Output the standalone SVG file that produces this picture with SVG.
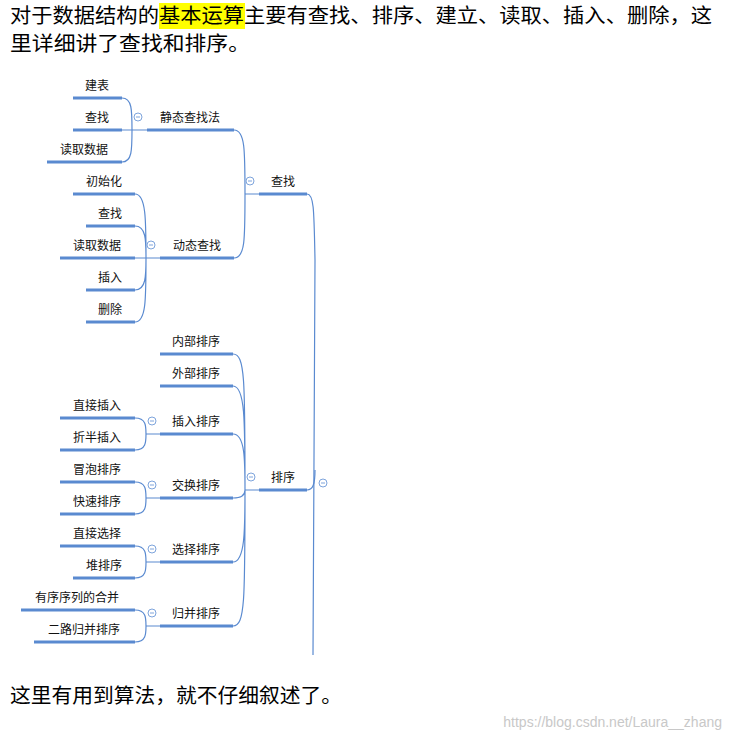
<svg xmlns="http://www.w3.org/2000/svg" width="730" height="739" viewBox="0 0 730 739">
<style>
.p{font-family:"Microsoft YaHei","Noto Sans CJK SC",sans-serif;font-size:20px;fill:#000}
.t{font-family:"Noto Sans CJK SC",sans-serif;font-size:12px;fill:#111;text-anchor:middle}
.u{stroke:#5a8ad0;stroke-width:3;fill:none}
.c{stroke:#5a8ad0;stroke-width:1.2;fill:none}
.o{stroke:#7ea4dc;stroke-width:1;fill:#fff}
.m{stroke:#7ea4dc;stroke-width:1}
</style>
<rect width="730" height="739" fill="#fff"/>
<rect x="159" y="3" width="86" height="26" fill="#ffff00"/>
<text class="p" x="10" y="23" textLength="702" lengthAdjust="spacingAndGlyphs">对于数据结构的基本运算主要有查找、排序、建立、读取、插入、删除，这</text>
<text class="p" x="10" y="51" textLength="240" lengthAdjust="spacingAndGlyphs">里详细讲了查找和排序。</text>
<text class="p" x="10" y="703" textLength="332" lengthAdjust="spacingAndGlyphs">这里有用到算法，就不仔细叙述了。</text>
<text x="722" y="727" font-family="Liberation Sans,sans-serif" font-size="14" fill="#c8c8c8" text-anchor="end">https://blog.csdn.net/Laura__zhang</text>
<g id="connectors">
<path class="c" d="M122,98 C132,98 132,110 132,130 C132,150 132,162 122,162 M122,130 H147"/>
<path class="c" d="M234,130 C245,130 245,150 245,194 C245,240 245,258 234,258 M245,194 H259"/>
<path class="c" d="M135,194 C146,194 146,220 146,258 C146,300 146,322 135,322 M135,226 C146,226 146,240 146,258 M135,290 C146,290 146,276 146,258 M135,258 H160"/>
<path class="c" d="M307,194 C314,194 314,210 315,260 L313,655"/>
<path class="c" d="M307,490 C313,490 315,484 315,470"/>
<path class="c" d="M233,354 C245,354 245,380 245,490 C245,600 245,626 233,626 M233,386 C245,386 245,420 245,490 M233,434 C245,434 245,460 245,490 M233,498 C242,498 245,494 245,490 M233,562 C245,562 245,530 245,490 M245,490 H259"/>
<path class="c" d="M135,418 C146,418 146,426 146,434 C146,442 146,450 135,450 M146,434 H160"/>
<path class="c" d="M135,482 C146,482 146,490 146,498 C146,506 146,514 135,514 M146,498 H160"/>
<path class="c" d="M135,546 C146,546 146,554 146,562 C146,570 146,578 135,578 M146,562 H160"/>
<path class="c" d="M135,610 C146,610 146,618 146,626 C146,634 146,642 135,642 M146,626 H160"/>
</g>
<g id="collapse">
<circle class="o" cx="138" cy="117" r="4"/><line class="m" x1="136" y1="117" x2="140" y2="117"/>
<circle class="o" cx="250" cy="181" r="4"/><line class="m" x1="248" y1="181" x2="252" y2="181"/>
<circle class="o" cx="151" cy="245" r="4"/><line class="m" x1="149" y1="245" x2="153" y2="245"/>
<circle class="o" cx="251" cy="477" r="4"/><line class="m" x1="249" y1="477" x2="253" y2="477"/>
<circle class="o" cx="323" cy="483" r="4"/><line class="m" x1="321" y1="483" x2="325" y2="483"/>
<circle class="o" cx="152" cy="421" r="4"/><line class="m" x1="150" y1="421" x2="154" y2="421"/>
<circle class="o" cx="152" cy="485" r="4"/><line class="m" x1="150" y1="485" x2="154" y2="485"/>
<circle class="o" cx="152" cy="549" r="4"/><line class="m" x1="150" y1="549" x2="154" y2="549"/>
<circle class="o" cx="152" cy="613" r="4"/><line class="m" x1="150" y1="613" x2="154" y2="613"/>
</g>
<g id="n-jianbiao"><line class="u" x1="73" y1="98" x2="122" y2="98"/><text class="t" x="97" y="90">建表</text></g>
<g id="n-chazhao1"><line class="u" x1="73" y1="130" x2="122" y2="130"/><text class="t" x="97" y="122">查找</text></g>
<g id="n-duqu1"><line class="u" x1="47" y1="162" x2="122" y2="162"/><text class="t" x="84" y="154">读取数据</text></g>
<g id="n-jingtai"><line class="u" x1="147" y1="130" x2="234" y2="130"/><text class="t" x="190" y="122">静态查找法</text></g>
<g id="n-chazhao"><line class="u" x1="259" y1="194" x2="307" y2="194"/><text class="t" x="283" y="186">查找</text></g>
<g id="n-dongtai"><line class="u" x1="160" y1="258" x2="234" y2="258"/><text class="t" x="197" y="250">动态查找</text></g>
<g id="n-chushihua"><line class="u" x1="73" y1="194" x2="135" y2="194"/><text class="t" x="104" y="186">初始化</text></g>
<g id="n-chazhao2"><line class="u" x1="86" y1="226" x2="135" y2="226"/><text class="t" x="110" y="218">查找</text></g>
<g id="n-duqu2"><line class="u" x1="60" y1="258" x2="135" y2="258"/><text class="t" x="97" y="250">读取数据</text></g>
<g id="n-charu"><line class="u" x1="86" y1="290" x2="135" y2="290"/><text class="t" x="110" y="282">插入</text></g>
<g id="n-shanchu"><line class="u" x1="86" y1="322" x2="135" y2="322"/><text class="t" x="110" y="314">删除</text></g>
<g id="n-neibu"><line class="u" x1="160" y1="354" x2="233" y2="354"/><text class="t" x="196" y="346">内部排序</text></g>
<g id="n-waibu"><line class="u" x1="160" y1="386" x2="233" y2="386"/><text class="t" x="196" y="378">外部排序</text></g>
<g id="n-charupx"><line class="u" x1="160" y1="434" x2="233" y2="434"/><text class="t" x="196" y="426">插入排序</text></g>
<g id="n-jiaohuan"><line class="u" x1="160" y1="498" x2="233" y2="498"/><text class="t" x="196" y="490">交换排序</text></g>
<g id="n-xuanze"><line class="u" x1="160" y1="562" x2="233" y2="562"/><text class="t" x="196" y="554">选择排序</text></g>
<g id="n-guibing"><line class="u" x1="160" y1="626" x2="233" y2="626"/><text class="t" x="196" y="618">归并排序</text></g>
<g id="n-paixu"><line class="u" x1="259" y1="490" x2="307" y2="490"/><text class="t" x="283" y="482">排序</text></g>
<g id="n-zhijiecharu"><line class="u" x1="60" y1="418" x2="135" y2="418"/><text class="t" x="97" y="410">直接插入</text></g>
<g id="n-zheban"><line class="u" x1="60" y1="450" x2="135" y2="450"/><text class="t" x="97" y="442">折半插入</text></g>
<g id="n-maopao"><line class="u" x1="60" y1="482" x2="135" y2="482"/><text class="t" x="97" y="474">冒泡排序</text></g>
<g id="n-kuaisu"><line class="u" x1="60" y1="514" x2="135" y2="514"/><text class="t" x="97" y="506">快速排序</text></g>
<g id="n-zhijiexuanze"><line class="u" x1="60" y1="546" x2="135" y2="546"/><text class="t" x="97" y="538">直接选择</text></g>
<g id="n-dui"><line class="u" x1="73" y1="578" x2="135" y2="578"/><text class="t" x="104" y="570">堆排序</text></g>
<g id="n-youxu"><line class="u" x1="21" y1="610" x2="135" y2="610"/><text class="t" x="77" y="602">有序序列的合并</text></g>
<g id="n-erlu"><line class="u" x1="34" y1="642" x2="135" y2="642"/><text class="t" x="84" y="634">二路归并排序</text></g>
</svg>
